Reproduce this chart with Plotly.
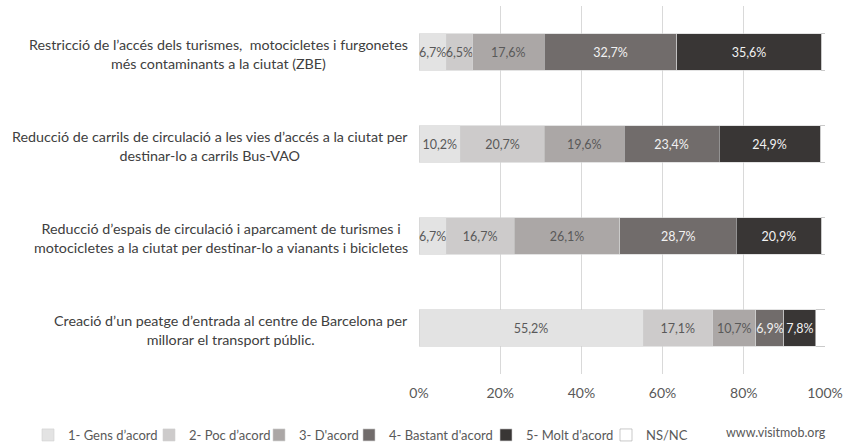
import plotly.graph_objects as go

# data
questions = [
    "Restricció de l’accés dels turismes,  motocicletes i furgonetes<br>més contaminants a la ciutat (ZBE)",
    "Reducció de carrils de circulació a les vies d’accés a la ciutat per<br>destinar-lo a carrils Bus-VAO",
    "Reducció d’espais de circulació i aparcament de turismes i<br>motocicletes a la ciutat per destinar-lo a vianants i bicicletes",
    "Creació d’un peatge d’entrada al centre de Barcelona per<br>millorar el transport públic.",
]
gens_acord = [6.7, 10.2, 6.7, 55.2]
poc_acord = [6.5, 20.7, 16.7, 17.1]
acord = [17.6, 19.6, 26.1, 10.7]
bastant_acord = [32.7, 23.4, 28.7, 6.9]
molt_acord = [35.6, 24.9, 20.9, 7.8]
ns_nc = [0.9, 1.2, 0.9, 2.3]
tick_vals = [0, 20, 40, 60, 80, 100]
tick_text = ["0%", "20%", "40%", "60%", "80%", "100%"]

series = [
    ("1- Gens d’acord", gens_acord, "#e3e3e3", "#595959"),
    ("2- Poc d’acord", poc_acord, "#cdcbcb", "#595959"),
    ("3- D'acord", acord, "#aba7a6", "#595959"),
    ("4- Bastant d'acord", bastant_acord, "#716c6b", "#f2f2f2"),
    ("5- Molt d’acord", molt_acord, "#393635", "#f2f2f2"),
    ("NS/NC", ns_nc, "#ffffff", "#595959"),
]

FONT = "Lato"
L, R, T, B = 419, 19, 6, 72
W, H = 844, 446
pw = W - L - R
ph = H - T - B

# left edge of each legend entry (px), one legend per series so the row spacing matches
legend_px = [28, 149, 259, 349, 486, 606]
legend_keys = ["legend", "legend2", "legend3", "legend4", "legend5", "legend6"]

fig = go.Figure()
for i, (name, vals, col, tcol) in enumerate(series):
    txt = None
    if name != "NS/NC":
        txt = [f"{v:.1f}%".replace(".", ",") for v in vals]
    fig.add_trace(go.Bar(
        y=questions, x=vals, name=name, orientation="h",
        marker=dict(color=col, line=dict(color="#a6a6a6" if name == "NS/NC" else "#d0d0d0", width=0.6)),
        text=txt, textposition="inside", insidetextanchor="middle", textangle=0,
        textfont=dict(family=FONT, size=12.5, color=tcol),
        hoverinfo="skip", legend=legend_keys[i], showlegend=True,
    ))

annotations = []
for q in questions:
    annotations.append(dict(
        xref="paper", yref="y", x=-0.023, y=q, xanchor="right", yanchor="middle",
        yshift=-2, text=q, align="center", showarrow=False,
        font=dict(family=FONT, size=14.3, color="#404040"),
    ))
annotations.append(dict(
    xref="paper", yref="paper", x=(776 - L) / pw, y=-(432 - (H - B)) / ph,
    xanchor="center", yanchor="middle",
    text="www.visitmob.org", showarrow=False,
    font=dict(family=FONT, size=12.5, color="#595959"),
))

legends = {}
for key, px in zip(legend_keys, legend_px):
    legends[key] = dict(
        orientation="h", x=(px - L) / pw, y=-(420 - (H - B)) / ph,
        xanchor="left", yanchor="top", bgcolor="rgba(0,0,0,0)",
        font=dict(family=FONT, size=13, color="#595959"),
        itemwidth=30,
    )

fig.update_layout(
    barmode="stack",
    bargap=0.6,
    width=W, height=H,
    showlegend=True,
    margin=dict(l=L, r=R, t=T, b=B, autoexpand=False),
    plot_bgcolor="white", paper_bgcolor="white",
    font=dict(family=FONT, color="#595959"),
    uniformtext=dict(mode="show", minsize=12.5),
    xaxis=dict(
        range=[0, 100], tickmode="array", tickvals=tick_vals, ticktext=tick_text,
        showgrid=True, gridcolor="#d9d9d9", gridwidth=1,
        zeroline=False, showline=False,
        ticks="outside", ticklen=6, tickcolor="rgba(0,0,0,0)",
        tickfont=dict(family=FONT, size=14, color="#595959"),
    ),
    yaxis=dict(
        autorange="reversed", showticklabels=False, showgrid=False,
        zeroline=False, showline=False,
    ),
    annotations=annotations,
    **legends,
)

fig.write_html("out.html", config={"displayModeBar": False},
               post_script="document.body.style.margin='0';")
